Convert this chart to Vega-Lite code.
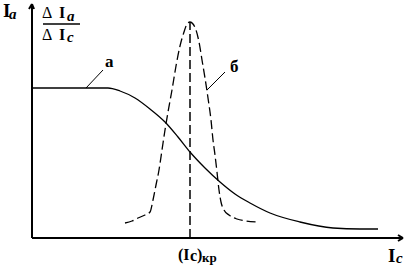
{
  "$schema": "https://vega.github.io/schema/vega-lite/v6.json",
  "width": 416,
  "height": 265,
  "padding": 0,
  "autosize": "none",
  "background": "white",
  "config": {"view": {"stroke": null}},
  "datasets": {
    "curveA": [
      {"x": 0, "y": 150}, {"x": 76, "y": 150}, {"x": 88, "y": 147}, {"x": 103, "y": 140},
      {"x": 118, "y": 129}, {"x": 133, "y": 116}, {"x": 146, "y": 101}, {"x": 158, "y": 86},
      {"x": 173, "y": 70}, {"x": 188, "y": 56}, {"x": 203, "y": 44}, {"x": 218, "y": 35},
      {"x": 238, "y": 25}, {"x": 268, "y": 16}, {"x": 301, "y": 10}, {"x": 328, "y": 9},
      {"x": 346, "y": 9}
    ],
    "curveB": [
      {"x": 93, "y": 15}, {"x": 100, "y": 17}, {"x": 106, "y": 20}, {"x": 113, "y": 23},
      {"x": 118, "y": 26}, {"x": 121, "y": 38}, {"x": 124, "y": 53}, {"x": 127, "y": 68},
      {"x": 130, "y": 88}, {"x": 133, "y": 108}, {"x": 136, "y": 126}, {"x": 140, "y": 148},
      {"x": 144, "y": 172}, {"x": 148, "y": 192}, {"x": 152, "y": 206}, {"x": 155, "y": 214},
      {"x": 158, "y": 216}, {"x": 161, "y": 214}, {"x": 164, "y": 208}, {"x": 167, "y": 196},
      {"x": 170, "y": 178}, {"x": 173, "y": 160}, {"x": 176, "y": 140}, {"x": 179, "y": 118},
      {"x": 181, "y": 98}, {"x": 183, "y": 83}, {"x": 185, "y": 66}, {"x": 187, "y": 48},
      {"x": 189, "y": 36}, {"x": 192, "y": 28}, {"x": 197, "y": 23}, {"x": 205, "y": 19},
      {"x": 214, "y": 17}, {"x": 225, "y": 16}
    ],
    "segments": [
      {"kind": "axis", "x": 0, "y": 0, "x2": 0, "y2": 234},
      {"kind": "axis", "x": 0, "y": 0, "x2": 371, "y2": 0},
      {"kind": "arrow", "x": 0, "y": 234, "x2": -3, "y2": 229},
      {"kind": "arrow", "x": 0, "y": 234, "x2": 2, "y2": 229},
      {"kind": "arrow", "x": 371, "y": 0, "x2": 366, "y2": 3},
      {"kind": "arrow", "x": 371, "y": 0, "x2": 366, "y2": -3},
      {"kind": "leader", "x": 54, "y": 150, "x2": 71, "y2": 168},
      {"kind": "leader", "x": 175, "y": 148, "x2": 193, "y2": 166},
      {"kind": "bar", "x": 11, "y": 214, "x2": 48, "y2": 214},
      {"kind": "crit", "x": 158, "y": 0, "x2": 158, "y2": 216}
    ],
    "labels": [
      {"role": "main", "text": "I", "x": -29, "y": 221},
      {"role": "main", "text": "I", "x": 356, "y": -24},
      {"role": "sub", "text": "a", "x": -23, "y": 219},
      {"role": "sub", "text": "c", "x": 364, "y": -25},
      {"role": "delta", "text": "Δ", "x": 10, "y": 220},
      {"role": "delta", "text": "Δ", "x": 10, "y": 198},
      {"role": "frac", "text": "I", "x": 27, "y": 220},
      {"role": "frac", "text": "I", "x": 27, "y": 198},
      {"role": "fsub", "text": "a", "x": 35, "y": 217},
      {"role": "fsub", "text": "c", "x": 35, "y": 196},
      {"role": "crit", "text": "(I", "x": 146, "y": -22},
      {"role": "crit", "text": "c", "x": 158, "y": -23},
      {"role": "crit", "text": ")", "x": 165, "y": -22},
      {"role": "critsub", "text": "кр", "x": 170, "y": -24},
      {"role": "curve", "text": "а", "x": 73, "y": 171},
      {"role": "curve", "text": "б", "x": 198, "y": 166}
    ]
  },
  "layer": [
    {
      "data": {"name": "segments"},
      "transform": [{"filter": "datum.kind === 'axis' || datum.kind === 'arrow'"}],
      "mark": {"type": "rule", "color": "black", "strokeWidth": 2},
      "encoding": {
        "x": {"field": "x", "type": "quantitative", "scale": {"domain": [-32, 384], "nice": false, "zero": false}, "axis": null},
        "y": {"field": "y", "type": "quantitative", "scale": {"domain": [-27, 238], "nice": false, "zero": false}, "axis": null},
        "x2": {"field": "x2"},
        "y2": {"field": "y2"}
      }
    },
    {
      "data": {"name": "segments"},
      "transform": [{"filter": "datum.kind === 'leader'"}],
      "mark": {"type": "rule", "color": "black", "strokeWidth": 1},
      "encoding": {
        "x": {"field": "x", "type": "quantitative", "scale": {"domain": [-32, 384], "nice": false, "zero": false}, "axis": null},
        "y": {"field": "y", "type": "quantitative", "scale": {"domain": [-27, 238], "nice": false, "zero": false}, "axis": null},
        "x2": {"field": "x2"},
        "y2": {"field": "y2"}
      }
    },
    {
      "data": {"name": "segments"},
      "transform": [{"filter": "datum.kind === 'bar'"}],
      "mark": {"type": "rule", "color": "black", "strokeWidth": 1.5},
      "encoding": {
        "x": {"field": "x", "type": "quantitative", "scale": {"domain": [-32, 384], "nice": false, "zero": false}, "axis": null},
        "y": {"field": "y", "type": "quantitative", "scale": {"domain": [-27, 238], "nice": false, "zero": false}, "axis": null},
        "x2": {"field": "x2"},
        "y2": {"field": "y2"}
      }
    },
    {
      "data": {"name": "segments"},
      "transform": [{"filter": "datum.kind === 'crit'"}],
      "mark": {"type": "rule", "color": "black", "strokeWidth": 1.5, "strokeDash": [9, 4]},
      "encoding": {
        "x": {"field": "x", "type": "quantitative", "scale": {"domain": [-32, 384], "nice": false, "zero": false}, "axis": null},
        "y": {"field": "y", "type": "quantitative", "scale": {"domain": [-27, 238], "nice": false, "zero": false}, "axis": null},
        "x2": {"field": "x2"},
        "y2": {"field": "y2"}
      }
    },
    {
      "data": {"name": "curveA"},
      "mark": {"type": "line", "color": "black", "strokeWidth": 1.3, "interpolate": "monotone"},
      "encoding": {
        "x": {"field": "x", "type": "quantitative", "scale": {"domain": [-32, 384], "nice": false, "zero": false}, "axis": null},
        "y": {"field": "y", "type": "quantitative", "scale": {"domain": [-27, 238], "nice": false, "zero": false}, "axis": null}
      }
    },
    {
      "data": {"name": "curveB"},
      "mark": {"type": "line", "color": "black", "strokeWidth": 1.3, "strokeDash": [9, 4], "interpolate": "monotone"},
      "encoding": {
        "x": {"field": "x", "type": "quantitative", "scale": {"domain": [-32, 384], "nice": false, "zero": false}, "axis": null},
        "y": {"field": "y", "type": "quantitative", "scale": {"domain": [-27, 238], "nice": false, "zero": false}, "axis": null}
      }
    },
    {
      "data": {"name": "labels"},
      "transform": [{"filter": "datum.role === 'main'"}],
      "mark": {"type": "text", "align": "left", "baseline": "alphabetic", "font": "Liberation Serif", "fontWeight": "bold", "fontSize": 19, "color": "black"},
      "encoding": {
        "x": {"field": "x", "type": "quantitative", "scale": {"domain": [-32, 384], "nice": false, "zero": false}, "axis": null},
        "y": {"field": "y", "type": "quantitative", "scale": {"domain": [-27, 238], "nice": false, "zero": false}, "axis": null},
        "text": {"field": "text"}
      }
    },
    {
      "data": {"name": "labels"},
      "transform": [{"filter": "datum.role === 'sub' || datum.role === 'fsub'"}],
      "mark": {"type": "text", "align": "left", "baseline": "alphabetic", "font": "Liberation Serif", "fontWeight": "bold", "fontStyle": "italic", "fontSize": 15, "color": "black"},
      "encoding": {
        "x": {"field": "x", "type": "quantitative", "scale": {"domain": [-32, 384], "nice": false, "zero": false}, "axis": null},
        "y": {"field": "y", "type": "quantitative", "scale": {"domain": [-27, 238], "nice": false, "zero": false}, "axis": null},
        "text": {"field": "text"}
      }
    },
    {
      "data": {"name": "labels"},
      "transform": [{"filter": "datum.role === 'delta'"}],
      "mark": {"type": "text", "align": "left", "baseline": "alphabetic", "font": "Liberation Serif", "fontSize": 16, "color": "black"},
      "encoding": {
        "x": {"field": "x", "type": "quantitative", "scale": {"domain": [-32, 384], "nice": false, "zero": false}, "axis": null},
        "y": {"field": "y", "type": "quantitative", "scale": {"domain": [-27, 238], "nice": false, "zero": false}, "axis": null},
        "text": {"field": "text"}
      }
    },
    {
      "data": {"name": "labels"},
      "transform": [{"filter": "datum.role === 'frac'"}],
      "mark": {"type": "text", "align": "left", "baseline": "alphabetic", "font": "Liberation Serif", "fontWeight": "bold", "fontSize": 16, "color": "black"},
      "encoding": {
        "x": {"field": "x", "type": "quantitative", "scale": {"domain": [-32, 384], "nice": false, "zero": false}, "axis": null},
        "y": {"field": "y", "type": "quantitative", "scale": {"domain": [-27, 238], "nice": false, "zero": false}, "axis": null},
        "text": {"field": "text"}
      }
    },
    {
      "data": {"name": "labels"},
      "transform": [{"filter": "datum.role === 'crit'"}],
      "mark": {"type": "text", "align": "left", "baseline": "alphabetic", "font": "Liberation Serif", "fontWeight": "bold", "fontSize": 16, "color": "black"},
      "encoding": {
        "x": {"field": "x", "type": "quantitative", "scale": {"domain": [-32, 384], "nice": false, "zero": false}, "axis": null},
        "y": {"field": "y", "type": "quantitative", "scale": {"domain": [-27, 238], "nice": false, "zero": false}, "axis": null},
        "text": {"field": "text"}
      }
    },
    {
      "data": {"name": "labels"},
      "transform": [{"filter": "datum.role === 'critsub'"}],
      "mark": {"type": "text", "align": "left", "baseline": "alphabetic", "font": "Liberation Serif", "fontWeight": "bold", "fontSize": 13, "color": "black"},
      "encoding": {
        "x": {"field": "x", "type": "quantitative", "scale": {"domain": [-32, 384], "nice": false, "zero": false}, "axis": null},
        "y": {"field": "y", "type": "quantitative", "scale": {"domain": [-27, 238], "nice": false, "zero": false}, "axis": null},
        "text": {"field": "text"}
      }
    },
    {
      "data": {"name": "labels"},
      "transform": [{"filter": "datum.role === 'curve'"}],
      "mark": {"type": "text", "align": "left", "baseline": "alphabetic", "font": "Liberation Serif", "fontWeight": "bold", "fontSize": 17, "color": "black"},
      "encoding": {
        "x": {"field": "x", "type": "quantitative", "scale": {"domain": [-32, 384], "nice": false, "zero": false}, "axis": null},
        "y": {"field": "y", "type": "quantitative", "scale": {"domain": [-27, 238], "nice": false, "zero": false}, "axis": null},
        "text": {"field": "text"}
      }
    }
  ]
}
